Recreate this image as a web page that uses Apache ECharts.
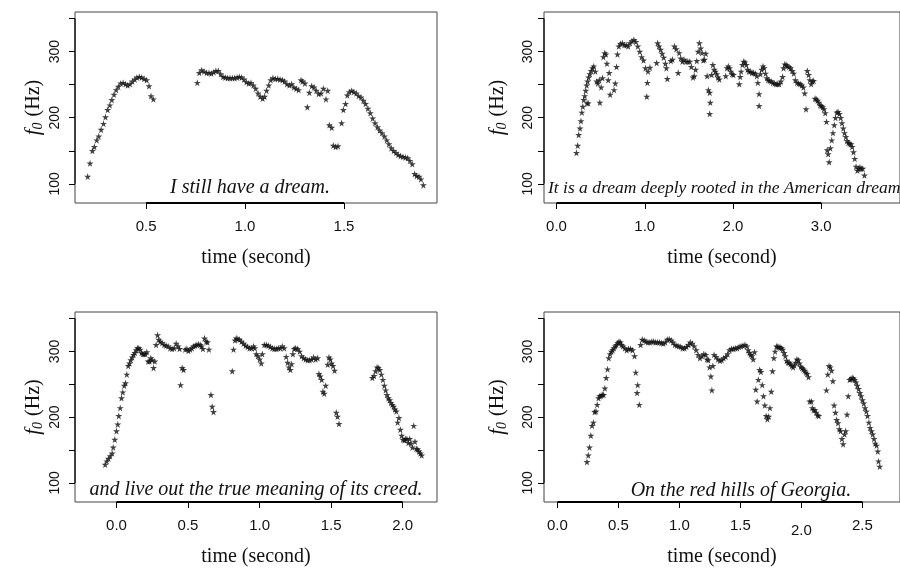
<!DOCTYPE html>
<html>
<head>
<meta charset="utf-8">
<script src="https://cdn.jsdelivr.net/npm/echarts@6/dist/echarts.min.js"></script>
<style>
  html, body { margin: 0; padding: 0; background: #fff; }
  #chart { width: 900px; height: 568px; }
</style>
</head>
<body>
<div id="chart"></div>
<script>
// f0 contours, one sentence per panel (time in s, f0 in Hz)
const dreamTime = [0.205,0.217,0.229,0.239,0.251,0.261,0.273,0.285,0.295,0.306,0.317,0.327,0.338,0.349,0.36,0.372,0.384,0.396,0.407,0.419,0.431,0.443,0.454,0.466,0.478,0.49,0.503,0.515,0.525,0.537,
  0.759,0.769,0.781,0.793,0.806,0.818,0.83,0.842,0.853,0.865,0.877,0.889,0.9,0.912,0.924,0.936,0.948,0.96,0.971,0.983,0.995,1.007,1.019,1.03,1.042,1.054,1.066,1.077,1.089,1.099,1.109,1.12,1.13,1.141,1.153,1.165,1.177,1.189,1.2,1.212,1.224,1.236,1.247,1.259,1.271,1.283,1.291,1.303,1.315,1.325,1.337,1.349,1.36,1.372,1.384,1.396,1.409,1.418,1.426,1.438,1.446,1.458,1.47,
  1.488,1.497,1.508,1.517,1.527,1.539,1.55,1.562,1.574,1.586,1.598,1.609,1.621,1.633,1.645,1.657,1.669,1.68,1.692,1.704,1.716,1.727,1.739,1.751,1.763,1.774,1.786,1.798,1.81,1.822,1.833,1.845,1.857,1.867,1.879,1.889,1.901];
const dreamF0 = [111,131,150,156,166,172,182,191,201,212,219,227,235,242,247,252,253,251,249,251,255,258,261,262,261,259,257,248,233,228,
  253,268,272,270,268,268,267,269,271,271,266,262,261,260,260,260,260,261,262,261,258,254,252,253,249,244,237,232,229,232,241,249,257,260,259,259,258,257,255,251,249,251,246,244,242,257,255,252,216,238,248,246,241,236,237,244,228,241,189,185,158,156,157,
  192,212,221,234,239,241,239,237,233,231,226,221,214,207,199,192,186,181,177,172,166,160,154,150,147,144,142,141,140,139,135,130,115,112,111,107,98];

const rootedTime = [0.226,0.24,0.251,0.266,0.277,0.287,0.298,0.309,0.32,0.331,0.342,0.353,0.364,0.378,0.393,0.408,0.422,0.346,0.36,0.44,0.455,0.469,0.484,0.491,0.506,0.52,0.531,0.546,0.56,0.571,0.586,0.597,0.608,
  0.652,0.666,0.68,0.691,0.706,0.724,0.746,0.768,0.79,0.812,0.833,0.855,0.877,0.899,0.921,0.943,0.964,0.986,1.008,1.023,1.03,1.037,1.059,
  1.135,1.146,1.161,1.179,1.197,1.215,1.234,1.245,1.256,1.296,1.314,1.336,1.357,1.379,1.39,1.408,1.427,1.445,1.467,1.488,1.51,1.528,1.547,1.561,1.576,1.59,1.605,1.619,1.634,1.648,1.663,1.677,1.692,1.707,1.721,1.736,1.743,1.736,1.758,1.772,1.787,1.801,1.816,1.83,1.845,
  1.918,1.932,1.947,1.962,1.976,1.99,2.005,2.071,2.082,2.092,2.107,2.122,2.136,2.151,2.165,2.18,2.198,2.216,2.234,2.253,2.271,2.282,2.296,2.296,2.311,2.325,2.34,2.354,2.369,2.384,2.398,2.416,2.434,2.453,2.471,2.489,2.507,2.525,2.544,2.562,2.573,2.587,2.602,2.616,2.635,2.653,2.671,2.689,2.707,2.726,2.744,2.762,2.78,2.798,2.813,2.828,2.842,2.857,2.871,2.886,2.9,2.915,
  2.93,2.944,2.959,2.973,2.988,3.002,3.017,3.031,3.046,3.06,3.068,3.079,3.09,3.104,3.119,3.133,3.148,3.162,3.177,3.191,3.206,3.221,3.235,3.25,3.264,3.279,3.293,3.308,3.322,3.337,3.351,3.366,3.38,3.395,3.41,3.424,3.439,3.453,3.471,3.49];
const rootedF0 = [147,158,174,184,195,208,217,227,233,241,249,255,261,266,271,275,278,222,222,270,255,252,257,223,246,260,292,298,296,282,257,268,235,
  242,252,277,296,308,312,313,310,310,308,313,316,318,315,308,300,292,287,275,232,253,270,276,
  283,313,308,303,297,291,282,275,259,286,288,308,304,268,298,290,285,288,285,285,285,277,261,263,273,286,300,313,305,298,287,288,297,263,242,238,223,206,265,280,273,270,266,261,258,
  263,275,278,275,270,266,265,251,262,270,280,285,284,280,273,270,270,268,268,267,263,253,236,218,266,273,278,275,267,260,257,256,255,253,252,251,251,251,255,262,275,281,280,278,277,275,271,267,257,253,252,251,249,246,237,213,271,265,257,251,255,256,
  229,228,226,223,219,218,216,213,207,194,151,145,133,154,166,177,189,200,208,209,206,200,192,184,177,171,165,162,161,160,156,148,138,126,120,123,125,123,123,113];

const creedTime = [-0.079,-0.068,-0.056,-0.044,-0.03,-0.023,-0.012,0.0,0.009,0.016,0.026,0.035,0.044,0.054,0.063,0.072,0.082,0.091,0.1,0.11,0.119,0.128,0.138,0.147,0.156,0.166,0.175,0.184,0.193,0.203,0.212,0.221,0.231,0.24,0.249,0.259,0.268,
  0.277,0.287,0.296,0.305,0.319,0.333,0.347,0.361,0.375,0.389,0.403,0.417,0.431,0.441,0.448,0.459,0.469,0.48,0.492,0.503,0.515,0.527,0.538,0.55,0.562,0.573,0.585,0.594,0.604,0.615,0.627,0.636,0.646,0.66,0.669,0.678,
  0.809,0.818,0.828,0.837,0.848,0.86,0.874,0.888,0.902,0.916,0.93,0.944,0.958,0.967,0.977,0.988,1.0,1.012,1.019,1.033,1.047,1.061,1.075,1.089,1.103,1.117,1.131,1.145,1.159,1.172,1.186,1.196,1.205,1.215,1.224,1.233,1.242,1.252,1.266,1.28,1.294,1.308,1.322,1.336,1.35,1.364,1.378,1.392,1.406,
  1.415,1.424,1.434,1.443,1.452,1.462,1.476,1.485,1.494,1.503,1.513,1.524,1.536,1.545,1.555,
  1.788,1.8,1.811,1.821,1.83,1.84,1.851,1.862,1.872,1.881,1.89,1.9,1.909,1.918,1.928,1.937,1.946,1.956,1.965,1.974,1.984,1.993,2.002,2.012,2.021,2.03,2.04,2.049,2.058,2.068,2.077,2.086,2.096,2.105,2.114,2.124,2.133];
const creedF0 = [128,133,137,141,145,154,166,179,189,202,214,229,238,248,252,265,278,282,287,291,295,298,302,305,305,303,298,296,296,296,299,285,285,290,287,275,285,
  310,325,318,315,313,310,309,308,305,304,305,312,308,304,249,275,272,303,304,301,303,305,308,309,310,311,310,308,304,320,315,314,303,234,216,208,
  270,303,317,320,319,318,315,312,309,307,305,305,308,305,296,293,288,282,296,310,310,309,307,305,304,304,305,305,308,305,292,283,276,272,281,296,304,305,304,300,293,290,288,287,287,288,291,288,290,
  266,262,257,239,236,248,280,291,288,282,278,271,207,201,190,
  260,263,270,276,275,272,265,257,248,241,234,229,226,222,219,216,212,209,192,199,181,172,166,165,167,167,161,167,160,154,187,163,152,151,148,145,142];

const georgiaTime = [0.242,0.253,0.263,0.274,0.284,0.295,0.305,0.316,0.326,0.337,0.347,0.358,0.368,0.379,0.389,0.4,0.411,0.421,0.432,0.442,0.453,0.463,0.474,0.484,0.495,0.505,0.516,0.526,0.537,0.553,0.568,0.584,0.6,0.616,0.632,0.642,0.658,0.653,0.671,
  0.682,0.695,0.711,0.726,0.742,0.758,0.774,0.789,0.805,0.821,0.837,0.853,0.868,0.884,0.9,0.916,0.932,0.947,0.963,0.979,0.995,1.011,1.026,1.042,1.058,1.074,1.089,1.105,1.121,1.137,1.153,1.168,1.184,1.2,1.216,1.226,1.237,1.247,1.258,1.266,1.274,
  1.284,1.3,1.316,1.332,1.347,1.363,1.379,1.395,1.411,1.426,1.442,1.458,1.474,1.489,1.505,1.521,1.537,1.553,1.563,1.574,1.584,1.595,1.605,1.616,1.626,1.637,1.647,1.658,1.668,1.679,1.689,1.7,1.711,1.721,1.732,1.742,1.753,1.763,1.774,
  1.784,1.795,1.805,1.816,1.826,1.837,1.847,1.858,1.868,1.879,1.889,1.9,1.911,1.921,1.932,1.942,1.953,1.963,1.974,1.984,1.995,2.005,2.016,2.026,2.037,2.047,2.058,2.068,2.082,2.089,2.1,2.111,2.121,2.132,2.142,
  2.205,2.216,2.226,2.237,2.247,2.258,2.268,2.279,2.289,2.3,2.311,2.321,2.332,2.342,2.353,2.363,2.374,2.384,2.395,2.405,2.416,2.426,2.437,2.447,2.458,2.468,2.479,2.489,2.5,2.511,2.521,2.532,2.542,2.553,2.563,2.574,2.584,2.595,2.605,2.616,2.626,2.632,2.642];
const georgiaF0 = [132,142,154,172,187,192,208,209,219,229,232,233,234,234,244,260,273,290,296,300,302,305,308,310,313,315,314,310,308,305,302,304,304,302,293,268,249,237,219,
  310,318,317,315,314,314,315,315,314,314,314,313,312,314,318,319,317,314,310,309,308,307,305,305,307,310,314,312,308,302,295,290,293,296,295,288,287,276,262,241,278,
  295,292,288,286,287,290,292,296,302,304,304,305,305,307,308,309,310,308,302,298,295,293,288,299,242,224,257,272,269,249,232,218,202,197,201,214,239,270,290,
  300,308,307,307,306,305,303,298,293,286,283,283,281,278,276,279,283,288,287,282,277,275,273,271,268,266,261,224,224,214,211,211,207,203,202,
  241,265,278,276,271,255,218,207,196,191,182,179,167,159,174,179,204,232,257,258,260,259,257,253,248,243,237,232,226,221,214,209,202,192,184,179,174,167,160,157,148,133,125];

// axis ticks / labels
const yTicks = [100, 150, 200, 250, 300, 350];
const yLabels = [100, 200, 300];
const xTicks1 = [0.5, 1.0, 1.5];
const xTicks2 = [0, 1, 2, 3];
const xTicks3 = [0, 0.5, 1.0, 1.5, 2.0];
const xTicks4 = [0, 0.5, 1.0, 1.5, 2.0, 2.5];
const captions = ['I still have a dream.', 'It is a dream deeply rooted in the American dream', 'and live out the true meaning of its creed.', 'On the red hills of Georgia.'];

const Y_MIN = 71, Y_MAX = 360;
const STAR = 'path://M50,0 L61,35 L98,35 L68,57 L79,91 L50,70 L21,91 L32,57 L2,35 L39,35 Z';
const SANS = '"Liberation Sans", Arial, sans-serif';
const SERIF = '"Liberation Serif", "Times New Roman", serif';

const panels = [
  { left: 75, top: 12, width: 362, xMin: 0.141, xMax: 1.97, ticks: xTicks1, t: dreamTime, f: dreamF0, cap: [250, 188, 'center', 20], lm: 13, ng: 30 },
  { left: 544, top: 12, width: 370, xMin: -0.142, xMax: 3.893, ticks: xTicks2, t: rootedTime, f: rootedF0, cap: [548, 188, 'left', 17.5], lm: 9, ng: 35 },
  { left: 75, top: 312, width: 362, xMin: -0.29, xMax: 2.24, ticks: xTicks3, t: creedTime, f: creedF0, cap: [256, 490, 'center', 20], lm: 13, ng: 30 },
  { left: 544, top: 312, width: 370, xMin: -0.11, xMax: 2.808, ticks: xTicks4, t: georgiaTime, f: georgiaF0, cap: [741, 491, 'center', 20], lm: 9, ng: 35 }
];

const grid = [], xAxis = [], yAxis = [], series = [], graphic = [];

panels.forEach((p, i) => {
  grid.push({
    left: p.left, top: p.top, width: p.width, height: 191,
    show: true, borderColor: '#444', borderWidth: 1, backgroundColor: 'transparent'
  });
  xAxis.push({
    type: 'value', gridIndex: i, min: p.xMin, max: p.xMax,
    splitLine: { show: false },
    axisLine: { show: false, onZero: false },
    axisTick: { show: true, length: 6, inside: false, customValues: p.ticks, lineStyle: { color: '#000' } },
    axisLabel: {
      customValues: p.ticks, margin: 16, color: '#111', fontFamily: SANS, fontSize: 15,
      formatter: v => (i === 3 && Math.abs(v - 2) < 1e-9) ? '{low|2.0}' : v.toFixed(1),
      rich: { low: { padding: [5, 0, 0, 0], fontFamily: SANS, fontSize: 15, color: '#111' } }
    },
    name: 'time (second)', nameLocation: 'middle', nameGap: 45,
    nameTextStyle: { fontFamily: SERIF, fontSize: 20, color: '#111' }
  });
  yAxis.push({
    type: 'value', gridIndex: i, min: Y_MIN, max: Y_MAX,
    splitLine: { show: false },
    axisLine: { show: false, onZero: false },
    axisTick: { show: true, length: 6, inside: false, customValues: yTicks, lineStyle: { color: '#000' } },
    axisLabel: {
      customValues: yLabels, rotate: 90, margin: p.lm, color: '#111', fontFamily: SANS, fontSize: 14
    },
    name: '{i|f}{s|0} (Hz)', nameLocation: 'middle', nameRotate: 90, nameGap: p.ng,
    nameTextStyle: {
      fontFamily: SERIF, fontSize: 20, color: '#111',
      rich: {
        i: { fontFamily: SERIF, fontStyle: 'italic', fontSize: 21, color: '#111' },
        s: { fontFamily: SERIF, fontStyle: 'italic', fontSize: 14, color: '#111', padding: [9, 1, 0, 0] }
      }
    }
  });
  series.push({
    type: 'scatter', xAxisIndex: i, yAxisIndex: i,
    symbol: STAR, symbolSize: 7,
    itemStyle: { color: '#111' },
    data: p.t.map((t, k) => [t, p.f[k]]),
    silent: true, animation: false
  });
  // R-style axis segments from first to last tick
  series.push({
    type: 'line', xAxisIndex: i, yAxisIndex: i, clip: false, symbol: 'none', silent: true, animation: false,
    lineStyle: { color: '#000', width: 2 },
    data: [[p.ticks[0], Y_MIN], [p.ticks[p.ticks.length - 1], Y_MIN]]
  });
  series.push({
    type: 'line', xAxisIndex: i, yAxisIndex: i, clip: false, symbol: 'none', silent: true, animation: false,
    lineStyle: { color: '#000', width: 1.2 },
    data: [[p.xMin, yTicks[0]], [p.xMin, yTicks[yTicks.length - 1]]]
  });
  graphic.push({
    type: 'text', x: p.cap[0], y: p.cap[1], silent: true,
    style: {
      text: captions[i], textAlign: p.cap[2], textVerticalAlign: 'middle',
      font: 'italic ' + p.cap[3] + 'px ' + SERIF, fill: '#111'
    }
  });
});

const chart = echarts.init(document.getElementById('chart'), null, { renderer: 'canvas' });
chart.setOption({
  animation: false,
  backgroundColor: '#fff',
  grid, xAxis, yAxis, series, graphic
});
</script>
</body>
</html>
